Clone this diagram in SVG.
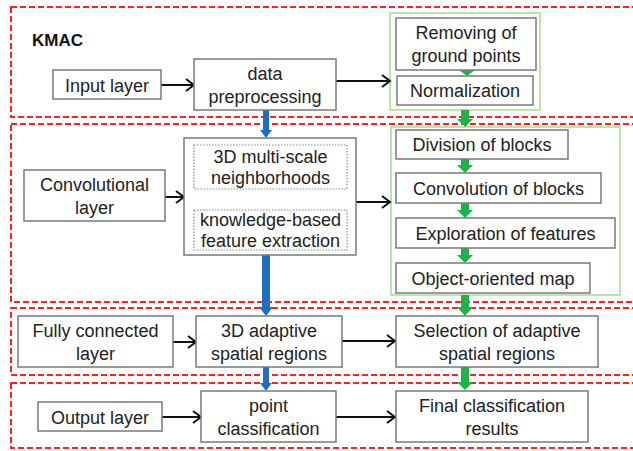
<svg xmlns="http://www.w3.org/2000/svg" width="633" height="451" viewBox="0 0 633 451">
<style>
.bg{fill:#ffffff}
.region{fill:none;stroke:#ff2020;stroke-width:2;stroke-dasharray:6 3}
.box{fill:#ffffff;stroke:#7a7a7a;stroke-width:1.5}
.inner{fill:#ffffff;stroke:#8a8a8a;stroke-width:1.2;stroke-dasharray:1.5 1.5}
.gbox{fill:#ffffff;stroke:#a9db8e;stroke-width:1.5}
text{font-family:"Liberation Sans",Arial,sans-serif;font-size:18px;fill:#222222;text-anchor:middle}
.title{font-weight:bold;text-anchor:start;fill:#111111}
.arr{fill:none;stroke:#111111;stroke-width:2}
.blue{fill:#1f6fc0}
.green{fill:#1db34a}
</style>
<defs>
<marker id="ah" markerUnits="userSpaceOnUse" markerWidth="12" markerHeight="14" refX="10" refY="7" orient="auto">
<polyline points="2,1 10,7 2,13" fill="none" stroke="#111111" stroke-width="2"/>
</marker>
</defs>
<rect class="bg" x="0" y="0" width="633" height="451"/>
<g id="regions">
<rect class="region" x="11" y="7" width="640" height="110"/>
<rect class="region" x="11" y="124" width="640" height="178"/>
<rect class="region" x="11" y="308" width="640" height="67"/>
<rect class="region" x="11" y="383" width="640" height="65"/>
</g>
<g id="containers">
<rect class="gbox" x="390" y="13" width="150" height="97"/>
<rect class="gbox" x="391" y="127" width="229" height="168"/>
</g>
<text class="title" x="32" y="46" style="font-size:17px">KMAC</text>
<g id="connectors">
<line class="arr" x1="161" y1="85" x2="194" y2="85" marker-end="url(#ah)"/>
<line class="arr" x1="336" y1="81" x2="390" y2="81" marker-end="url(#ah)"/>
<line class="arr" x1="165" y1="197" x2="184" y2="197" marker-end="url(#ah)"/>
<line class="arr" x1="356" y1="202" x2="390" y2="202" marker-end="url(#ah)"/>
<line class="arr" x1="173" y1="342" x2="196" y2="342" marker-end="url(#ah)"/>
<line class="arr" x1="342" y1="341" x2="395" y2="341" marker-end="url(#ah)"/>
<line class="arr" x1="162" y1="417" x2="201" y2="417" marker-end="url(#ah)"/>
<line class="arr" x1="336" y1="417" x2="395" y2="417" marker-end="url(#ah)"/>
<polygon class="blue" points="263,110 269,110 269,130 272,130 266,138 260,130 263,130"/>
<polygon class="blue" points="263,189 269,189 269,202 272,202 266,210 260,202 263,202"/>
<polygon class="blue" points="262,255 270,255 270,307 273,307 266,316 259,307 262,307"/>
<polygon class="blue" points="263,367 269,367 269,383 272,383 266,391 260,383 263,383"/>
<polygon class="green" points="459,70 475,70 467,76"/>
<polygon class="green" points="461,110 469,110 469,119 473,119 465,127 457,119 461,119"/>
<polygon class="green" points="461,159 469,159 469,165 473,165 465,173 457,165 461,165"/>
<polygon class="green" points="461,203 469,203 469,210 473,210 465,218 457,210 461,210"/>
<polygon class="green" points="461,248 469,248 469,255 473,255 465,263 457,255 461,255"/>
<polygon class="green" points="461,295 469,295 469,307 473,307 465,316 457,307 461,307"/>
<polygon class="green" points="461,367 469,367 469,382 473,382 465,390 457,382 461,382"/>
</g>
<g id="input-layer">
<rect class="box" x="53" y="70" width="108" height="29"/>
<text x="107" y="92">Input layer</text>
</g>
<g id="data-preprocessing">
<rect class="box" x="194" y="59" width="142" height="51"/>
<text x="265" y="80">data</text>
<text x="265" y="103">preprocessing</text>
</g>
<g id="removing-ground">
<rect class="box" x="396" y="18" width="140" height="52"/>
<text x="466" y="39">Removing of</text>
<text x="466" y="62">ground points</text>
</g>
<g id="normalization">
<rect class="box" x="397" y="76" width="136" height="29"/>
<text x="465" y="97">Normalization</text>
</g>
<g id="convolutional-layer">
<rect class="box" x="24" y="170" width="141" height="51"/>
<text x="94.5" y="191">Convolutional</text>
<text x="94.5" y="214">layer</text>
</g>
<g id="feature-module">
<rect class="box" x="184" y="138" width="172" height="117"/>
</g>
<g id="multiscale-neighborhoods">
<rect class="inner" x="194" y="145" width="153" height="44"/>
<text x="270.5" y="163">3D multi-scale</text>
<text x="270.5" y="184">neighborhoods</text>
</g>
<g id="knowledge-features">
<rect class="inner" x="194" y="210" width="153" height="40"/>
<text x="270.5" y="226">knowledge-based</text>
<text x="270.5" y="247">feature extraction</text>
</g>
<g id="division-blocks">
<rect class="box" x="396" y="130" width="172" height="29"/>
<text x="482" y="151">Division of blocks</text>
</g>
<g id="convolution-blocks">
<rect class="box" x="396" y="173" width="205" height="30"/>
<text x="498.5" y="194.5">Convolution of blocks</text>
</g>
<g id="exploration-features">
<rect class="box" x="396" y="218" width="219" height="30"/>
<text x="505.5" y="239.5">Exploration of features</text>
</g>
<g id="object-map">
<rect class="box" x="396" y="263" width="194" height="30"/>
<text x="493" y="284.5">Object-oriented map</text>
</g>
<g id="fully-connected-layer">
<rect class="box" x="18" y="316" width="155" height="51"/>
<text x="95.5" y="337">Fully connected</text>
<text x="95.5" y="360">layer</text>
</g>
<g id="adaptive-regions">
<rect class="box" x="196" y="316" width="146" height="51"/>
<text x="269" y="337">3D adaptive</text>
<text x="269" y="360">spatial regions</text>
</g>
<g id="selection-regions">
<rect class="box" x="396" y="316" width="202" height="51"/>
<text x="497" y="337">Selection of adaptive</text>
<text x="497" y="360">spatial regions</text>
</g>
<g id="output-layer">
<rect class="box" x="38" y="402" width="124" height="29"/>
<text x="100" y="423.5">Output layer</text>
</g>
<g id="point-classification">
<rect class="box" x="201" y="391" width="135" height="51"/>
<text x="268.5" y="412">point</text>
<text x="268.5" y="435">classification</text>
</g>
<g id="final-results">
<rect class="box" x="396" y="391" width="192" height="51"/>
<text x="492" y="412">Final classification</text>
<text x="492" y="435">results</text>
</g>
</svg>
